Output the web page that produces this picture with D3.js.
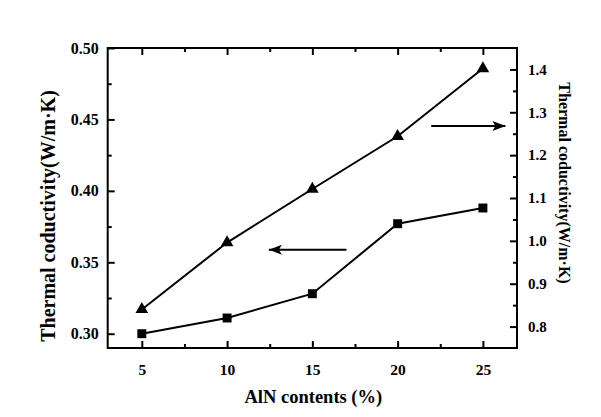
<!DOCTYPE html>
<html><head><meta charset="utf-8">
<script src="https://cdn.jsdelivr.net/npm/d3@7/dist/d3.min.js"></script>
<style>
html,body{margin:0;padding:0;background:#fff;}
svg text{font-family:"Liberation Serif","Times New Roman",serif;fill:#000;}
</style></head>
<body>
<svg id="chart" width="601" height="417"></svg>
<script>
// ---- data ----
const alnContents = [5, 10, 15, 20, 25];
const leftSeries = [0.300, 0.311, 0.328, 0.377, 0.388];   // squares, left axis
const rightSeries = [0.840, 0.996, 1.121, 1.244, 1.402];  // triangles, right axis
const xTickValues = [5, 10, 15, 20, 25];
const xMinorTicks = [7.5, 12.5, 17.5, 22.5];
const leftTickValues = [0.30, 0.35, 0.40, 0.45, 0.50];
const leftMinorTicks = [0.325, 0.375, 0.425, 0.475];
const rightTickValues = [0.8, 0.9, 1.0, 1.1, 1.2, 1.3, 1.4];
const rightMinorTicks = [0.85, 0.95, 1.05, 1.15, 1.25, 1.35];
const arrowNotes = [
  {axis: "left", from: 17.0, to: 12.45, y: 0.3588},
  {axis: "right", from: 21.97, to: 26.32, y: 1.268}
];
const xLabel = "AlN contents (%)";
const leftLabel = "Thermal coductivity(W/m\u00B7K)";
const rightLabel = "Thermal coductivity(W/m\u00B7K)";

// ---- layout ----
const L = 107.7, R = 517, T = 48, B = 348;
const svg = d3.select("#chart");

const x = d3.scaleLinear().domain([3, 27]).range([L, R]);
const yL = d3.scaleLinear().domain([0.29, 0.50]).range([B, T]);
const yR = d3.scaleLinear().domain([0.75, 1.45]).range([B, T]);

function styleAxis(g, size) {
  g.select(".domain").remove();
  g.selectAll(".tick line").attr("stroke", "#000").attr("stroke-width", 2);
  g.selectAll(".tick text").attr("font-size", size).attr("font-weight", "bold")
    .attr("font-family", "Liberation Serif, Times New Roman, serif").attr("fill", "#000");
}

// bottom axis
svg.append("g").attr("transform", `translate(0,${B})`)
  .call(d3.axisBottom(x).tickValues(xTickValues).tickSize(-7).tickPadding(16).tickFormat(d3.format("d")))
  .call(g => styleAxis(g, 15.5));
svg.append("g").attr("transform", `translate(0,${B})`)
  .call(d3.axisBottom(x).tickValues(xMinorTicks).tickSize(-4).tickFormat(""))
  .call(g => styleAxis(g, 15));
// top axis
svg.append("g").attr("transform", `translate(0,${T})`)
  .call(d3.axisTop(x).tickValues(xTickValues).tickSize(-7).tickFormat(""))
  .call(g => styleAxis(g, 15));
svg.append("g").attr("transform", `translate(0,${T})`)
  .call(d3.axisTop(x).tickValues(xMinorTicks).tickSize(-4).tickFormat(""))
  .call(g => styleAxis(g, 15));
// left axis
svg.append("g").attr("transform", `translate(${L},0)`)
  .call(d3.axisLeft(yL).tickValues(leftTickValues).tickSize(-7).tickPadding(9).tickFormat(d3.format(".2f")))
  .call(g => styleAxis(g, 16));
svg.append("g").attr("transform", `translate(${L},0)`)
  .call(d3.axisLeft(yL).tickValues(leftMinorTicks).tickSize(-4).tickFormat(""))
  .call(g => styleAxis(g, 16));
// right axis
svg.append("g").attr("transform", `translate(${R},0)`)
  .call(d3.axisRight(yR).tickValues(rightTickValues).tickSize(-7).tickPadding(11).tickFormat(d3.format(".1f")))
  .call(g => styleAxis(g, 15));
svg.append("g").attr("transform", `translate(${R},0)`)
  .call(d3.axisRight(yR).tickValues(rightMinorTicks).tickSize(-4).tickFormat(""))
  .call(g => styleAxis(g, 15));

// frame
svg.append("rect").attr("x", L).attr("y", T).attr("width", R - L).attr("height", B - T)
  .attr("fill", "none").attr("stroke", "#000").attr("stroke-width", 2);

// series
const sq = alnContents.map((d, i) => ({x: d, y: leftSeries[i]}));
const tr = alnContents.map((d, i) => ({x: d, y: rightSeries[i]}));

svg.append("path").datum(sq)
  .attr("d", d3.line().x(d => x(d.x)).y(d => yL(d.y)))
  .attr("fill", "none").attr("stroke", "#000").attr("stroke-width", 2);
svg.append("path").datum(tr)
  .attr("d", d3.line().x(d => x(d.x)).y(d => yR(d.y)))
  .attr("fill", "none").attr("stroke", "#000").attr("stroke-width", 2);

svg.selectAll(".sq").data(sq).enter().append("path")
  .attr("transform", d => `translate(${x(d.x)},${yL(d.y)})`)
  .attr("d", d3.symbol().type(d3.symbolSquare).size(80))
  .attr("fill", "#000");
svg.selectAll(".tr").data(tr).enter().append("path")
  .attr("transform", d => `translate(${x(d.x)},${yR(d.y)})`)
  .attr("d", d3.symbol().type(d3.symbolTriangle).size(70))
  .attr("fill", "#000");

// arrows
const defs = svg.append("defs");
defs.append("marker").attr("id", "ah").attr("markerUnits", "userSpaceOnUse")
  .attr("viewBox", "0 0 13 10").attr("refX", 13).attr("refY", 5)
  .attr("markerWidth", 13).attr("markerHeight", 10).attr("orient", "auto")
  .append("path").attr("d", "M0,0 L13,5 L0,10 L3,5 Z").attr("fill", "#000");
arrowNotes.forEach(a => {
  const ys = a.axis === "left" ? yL : yR;
  svg.append("line")
    .attr("x1", x(a.from)).attr("x2", x(a.to))
    .attr("y1", ys(a.y)).attr("y2", ys(a.y))
    .attr("stroke", "#000").attr("stroke-width", 2)
    .attr("marker-end", "url(#ah)");
});

// axis titles
svg.append("text").attr("x", (L + R) / 2 + 1).attr("y", 403)
  .attr("text-anchor", "middle").attr("font-size", 18.5).attr("font-weight", "bold")
  .text(xLabel);
svg.append("text").attr("transform", `translate(55,${216}) rotate(-90)`)
  .attr("text-anchor", "middle").attr("font-size", 20).attr("font-weight", "bold")
  .text(leftLabel);
svg.append("text").attr("transform", `translate(559,${183}) rotate(90)`)
  .attr("text-anchor", "middle").attr("font-size", 16).attr("font-weight", "bold")
  .text(rightLabel);
</script>
</body></html>
